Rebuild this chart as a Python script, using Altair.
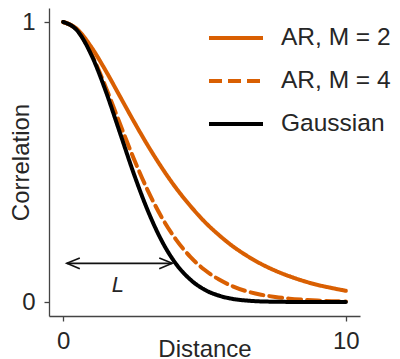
import altair as alt
import pandas as pd

# values
distance = [0, 0.5, 1, 1.5, 2, 2.5, 3, 3.5, 4, 4.5, 5, 5.5, 6, 6.5, 7, 7.5, 8, 8.5, 9, 9.5, 10]
ar_m2 = [1.0, 0.974, 0.910, 0.827, 0.736, 0.645, 0.558, 0.478, 0.406, 0.343, 0.287,
         0.240, 0.199, 0.165, 0.136, 0.112, 0.092, 0.075, 0.061, 0.050, 0.040]
ar_m4 = [1.0, 0.970, 0.886, 0.769, 0.639, 0.512, 0.397, 0.300, 0.222, 0.161, 0.115,
         0.081, 0.056, 0.038, 0.026, 0.018, 0.012, 0.008, 0.005, 0.003, 0.002]
gaussian = [1.0, 0.969, 0.882, 0.755, 0.607, 0.458, 0.325, 0.216, 0.135, 0.080, 0.044,
            0.023, 0.011, 0.005, 0.002, 0.001, 0.0003, 0.0, 0.0, 0.0, 0.0]
series_names = ["AR, M = 2", "AR, M = 4", "Gaussian"]
series_colors = ["#D95F02", "#D95F02", "#000000"]
series_dashes = [[1, 0], [13, 6], [1, 0]]
x_ticks = [0, 10]
y_ticks = [0, 1]

# arrow marking the length scale L
arrow_start = [0.13]
arrow_end = [3.86]
arrow_level = [0.138]
label_x = [1.94]
label_y = [0.06]
label_text = ["L"]

FONT = "Liberation Sans"
TEXT = "#262626"
AXIS = "#444444"

rows = []
for name, vals in zip(series_names, [ar_m2, ar_m4, gaussian]):
    for d, v in zip(distance, vals):
        rows.append({"distance": d, "corr": v, "series": name})
df = pd.DataFrame(rows)

xs = alt.Scale(domain=[-0.5, 10.5], nice=False, zero=False)
ys = alt.Scale(domain=[-0.05, 1.05], nice=False, zero=False)


def make_legend():
    return alt.Legend(orient="none", legendX=158, legendY=1, symbolType="stroke",
                      symbolSize=2916, symbolStrokeWidth=4, labelFontSize=24.5,
                      labelFont=FONT, labelColor=TEXT, labelOffset=16,
                      padding=0, title=None, labelLimit=300)


lines = alt.Chart(df).mark_line(strokeWidth=4, strokeCap="round", interpolate="monotone").encode(
    x=alt.X("distance:Q", scale=xs,
            axis=alt.Axis(values=x_ticks, format="d", title="Distance", labelPadding=27,
                          labelBaseline="alphabetic", titleY=40, titleBaseline="alphabetic")),
    y=alt.Y("corr:Q", scale=ys,
            axis=alt.Axis(values=y_ticks, format="d", title="Correlation", labelPadding=9,
                          titleX=-21, titleBaseline="alphabetic")),
    color=alt.Color("series:N", scale=alt.Scale(domain=series_names, range=series_colors),
                    legend=make_legend()),
    strokeDash=alt.StrokeDash("series:N", scale=alt.Scale(domain=series_names, range=series_dashes),
                              legend=make_legend()),
    detail="series:N",
)

arrow_df = pd.DataFrame({"x": arrow_start, "x2": arrow_end, "y": arrow_level})
shaft = alt.Chart(arrow_df).mark_rule(color="#111111", strokeWidth=1.6).encode(
    x="x:Q", x2="x2:Q", y="y:Q")
head_l = alt.Chart(arrow_df).mark_point(shape="M1,-0.42L0,0L1,0.42", size=676, filled=False,
                                        color="#111111", strokeWidth=1.6, opacity=1).encode(
    x=alt.X("x:Q"), y="y:Q")
head_r = alt.Chart(arrow_df).mark_point(shape="M-1,-0.42L0,0L-1,0.42", size=676, filled=False,
                                        color="#111111", strokeWidth=1.6, opacity=1).encode(
    x=alt.X("x2:Q"), y="y:Q")
lab = alt.Chart(pd.DataFrame({"x": label_x, "y": label_y, "t": label_text})).mark_text(
    font=FONT, fontSize=22, fontStyle="italic", color=TEXT, baseline="middle", align="center").encode(
    x="x:Q", y="y:Q", text="t:N")

chart = alt.layer(lines, shaft, head_l, head_r, lab).properties(
    width=311, height=308,
    autosize=alt.AutoSizeParams(type="none"),
    padding={"left": 41, "top": 0, "right": 32, "bottom": 43},
).configure_view(stroke=None).configure_axis(
    grid=False, domainColor=AXIS, domainWidth=1.3, tickColor=AXIS, tickWidth=1.3, tickSize=5,
    labelFont=FONT, labelFontSize=24, labelColor=TEXT, labelFlush=False,
    titleFont=FONT, titleFontSize=24, titleFontWeight="normal", titleColor=TEXT,
)

chart.save("out.html", embed_options={"renderer": "svg", "actions": False})
